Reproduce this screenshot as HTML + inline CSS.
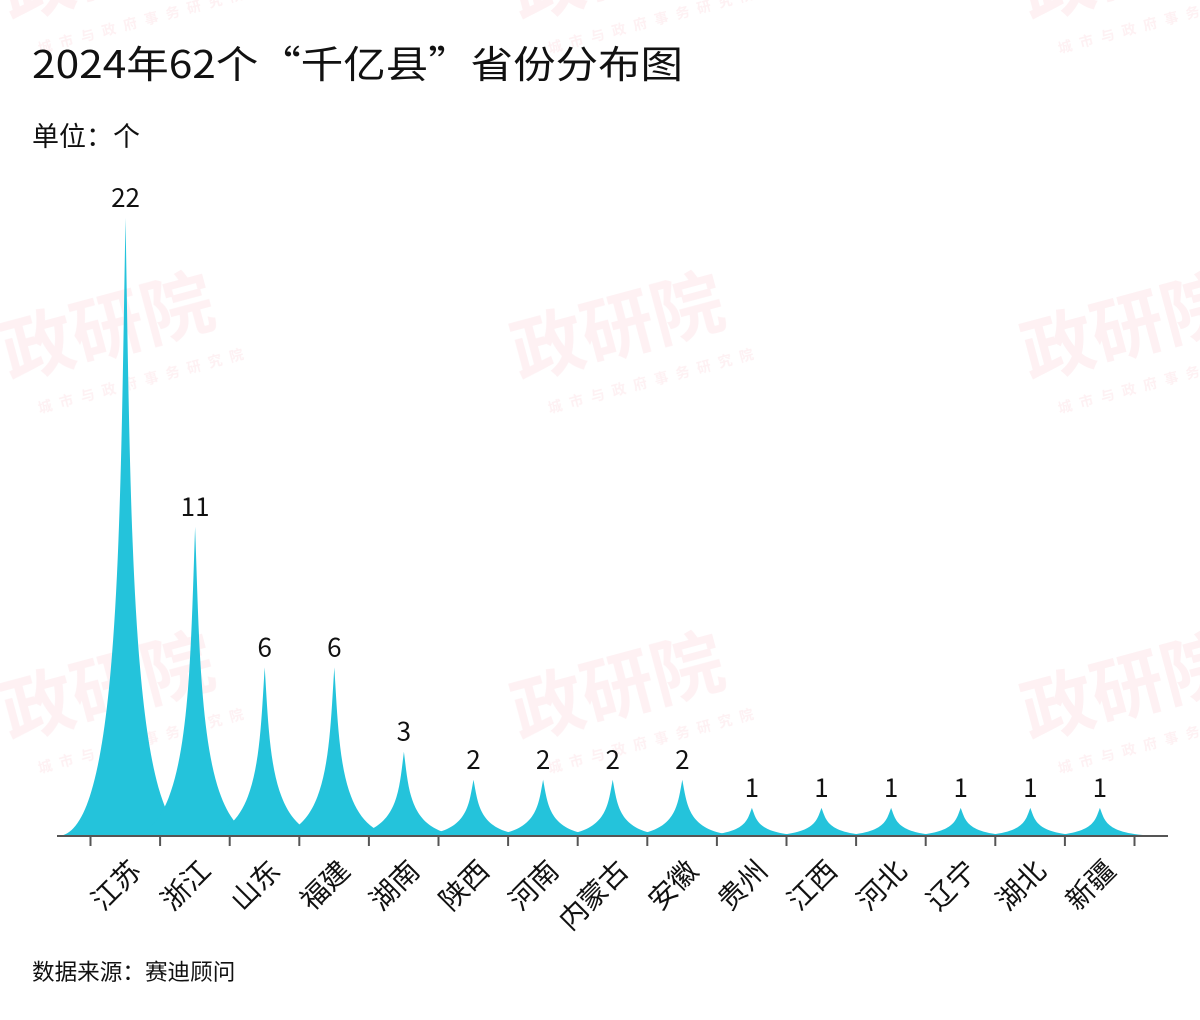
<!DOCTYPE html>
<html><head><meta charset="utf-8"><style>
html,body{margin:0;padding:0;background:#fff;}
svg{display:block;font-family:"Noto Sans CJK SC","Liberation Sans",sans-serif;}
</style></head><body>
<svg id="c" width="1200" height="1020" viewBox="0 0 1200 1020" xmlns="http://www.w3.org/2000/svg">
<g id="wm" fill="#e8506a" opacity="0.08" font-weight="bold"></g>
<text x="32" y="78" font-size="38" fill="#111" textLength="651" lengthAdjust="spacingAndGlyphs">2024年62个“千亿县”省份分布图</text>
<text x="32" y="146" font-size="27" fill="#111">单位：个</text>
<g id="bars"></g>
<line x1="57" y1="836" x2="1168" y2="836" stroke="#555" stroke-width="2"/>
<g id="ticks" stroke="#555" stroke-width="2"></g>
<g id="lbl" font-size="26" fill="#111"></g>
<text x="32" y="980" font-size="22.6" fill="#111">数据来源：赛迪顾问</text>
</svg>
<script>
var names=["江苏","浙江","山东","福建","湖南","陕西","河南","内蒙古","安徽","贵州","江西","河北","辽宁","湖北","新疆"];
var vals=[22,11,6,6,3,2,2,2,2,1,1,1,1,1,1];
var B=836,u=28.1,step=69.6,x0=125.5,w=68;
var bars="",ticks="",lbl="";
for(var i=0;i<15;i++){
 var cx=x0+step*i,h=vals[i]*u,k=0.08*w;
 bars+='<path d="M'+(cx-w)+','+B+' C'+(cx-k)+','+B+' '+(cx-k)+','+(B-h/2)+' '+cx+','+(B-h)+' C'+(cx+k)+','+(B-h/2)+' '+(cx+k)+','+B+' '+(cx+w)+','+B+' Z" fill="#24c3db"/>';
 lbl+='<text x="'+cx+'" y="'+(B-h-11)+'" text-anchor="middle">'+vals[i]+'</text>';
 lbl+='<text transform="translate('+(cx+12)+',867) rotate(-45)" text-anchor="end" dominant-baseline="middle" font-size="28">'+names[i]+'</text>';
}
for(var j=0;j<16;j++){var tx=90.5+step*j;ticks+='<line x1="'+tx+'" y1="836" x2="'+tx+'" y2="846"/>';}
document.getElementById("bars").innerHTML=bars;
document.getElementById("ticks").innerHTML=ticks;
document.getElementById("lbl").innerHTML=lbl;
var wm="";
var pos=[[10,20],[520,20],[1030,20],[10,380],[520,380],[1030,380],[10,740],[520,740],[1030,740]];
pos.forEach(function(p){
 wm+='<g transform="translate('+p[0]+','+p[1]+') rotate(-15)"><text x="0" y="0" font-size="72">政研院</text><text x="20" y="40" font-size="14" letter-spacing="8">城市与政府事务研究院</text></g>';
});
document.getElementById("wm").innerHTML=wm;
</script>
</body></html>
